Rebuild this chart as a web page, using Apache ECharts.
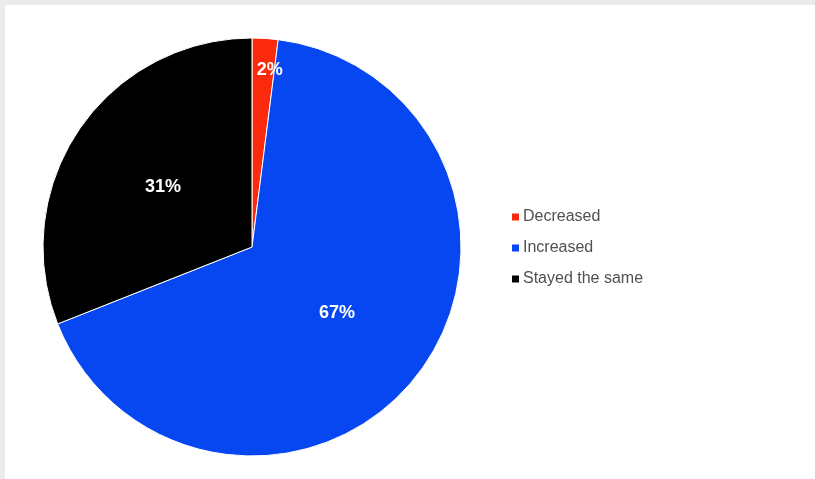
<!DOCTYPE html>
<html>
<head>
<meta charset="utf-8">
<script src="https://cdn.jsdelivr.net/npm/echarts@6/dist/echarts.min.js"></script>
<style>
  html, body { margin: 0; padding: 0; background: #ebebeb; }
  #frame { position: absolute; left: 5px; top: 5px; width: 810px; height: 474px; background: #ffffff; }
  #chart { position: absolute; left: -5px; top: -5px; width: 815px; height: 479px; }
</style>
</head>
<body>
<div id="frame"><div id="chart"></div></div>
<script>
// Share of responses by change category
const categories = ['Decreased', 'Increased', 'Stayed the same'];
const shares = [2, 67, 31];
const colors = ['#fb2a0c', '#0647f2', '#000000'];

const chart = echarts.init(document.getElementById('chart'), null, { renderer: 'canvas' });

const pieData = categories.map((name, i) => ({
  name: name,
  value: shares[i],
  itemStyle: { color: colors[i] }
}));

chart.setOption({
  backgroundColor: 'transparent',
  animation: false,
  legend: {
    orient: 'vertical',
    left: 505,
    top: 204,
    itemGap: 15,
    itemWidth: 9,
    itemHeight: 9,
    icon: 'rect',
    textStyle: {
      fontFamily: 'Liberation Sans, Arial, sans-serif',
      fontSize: 16,
      color: '#505050',
      padding: [0, 0, 0, -2]
    },
    data: categories
  },
  series: [{
    type: 'pie',
    center: [252, 247],
    radius: 209,
    startAngle: 90,
    clockwise: true,
    silent: true,
    itemStyle: { borderColor: '#ffffff', borderWidth: 1 },
    label: {
      show: true,
      position: 'inside',
      formatter: p => Math.round(p.percent) + '%',
      color: '#ffffff',
      fontFamily: 'Liberation Sans, Arial, sans-serif',
      fontWeight: 'bold',
      fontSize: 18
    },
    // the thin slice carries its label further out along its bisector
    labelLayout: function (params) {
      if (params.dataIndex === 0) {
        return { dx: 11, dy: -70 };
      }
      return {};
    },
    labelLine: { show: false },
    data: pieData
  }]
});
</script>
</body>
</html>
